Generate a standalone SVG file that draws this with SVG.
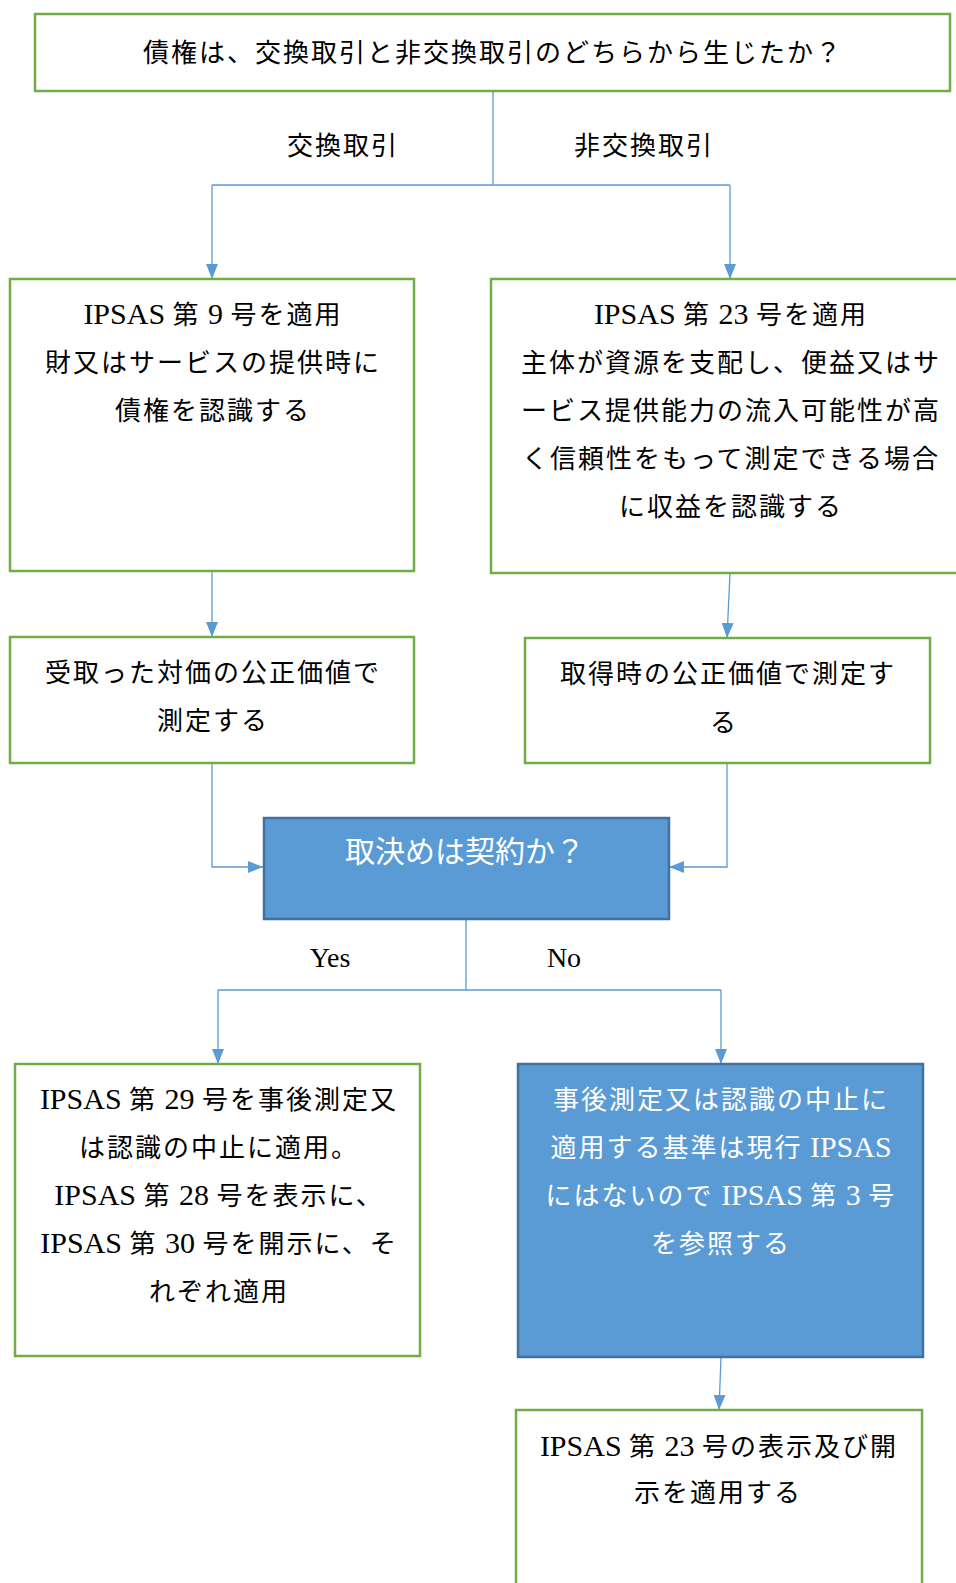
<svg xmlns="http://www.w3.org/2000/svg" width="956" height="1583" viewBox="0 0 956 1583">
<style>
.box{fill:#ffffff;stroke:#70AD47;stroke-width:2.5}
.dec{fill:#5B9BD5;stroke:#41719C;stroke-width:2.5}
.t{font-family:"Liberation Serif","Noto Sans CJK JP",serif;font-size:26px;letter-spacing:2px;fill:#000000;text-anchor:middle}
.l{font-size:30px;letter-spacing:0}
.w{fill:#ffffff}
.d{font-family:"Noto Sans CJK JP","Noto Sans",sans-serif;font-size:30px;fill:#ffffff;text-anchor:middle}
.c{fill:none;stroke:#5B9BD5;stroke-width:1.3}
</style>
<defs>
<marker id="ah" markerUnits="userSpaceOnUse" markerWidth="15" markerHeight="12" refX="15" refY="6" orient="auto">
<path d="M0,0 L15,6 L0,12 z" fill="#5B9BD5"/>
</marker>
</defs>
<rect width="956" height="1583" fill="#ffffff"/>
<g id="connectors">
<path class="c" d="M493,91 V185 M212,185 H730"/>
<path class="c" d="M212,185 V279" marker-end="url(#ah)"/>
<path class="c" d="M730,185 V279" marker-end="url(#ah)"/>
<path class="c" d="M212,571 V637" marker-end="url(#ah)"/>
<path class="c" d="M730,573 L727,638" marker-end="url(#ah)"/>
<path class="c" d="M212,763 V867 H263" marker-end="url(#ah)"/>
<path class="c" d="M727,763 V867 H669" marker-end="url(#ah)"/>
<path class="c" d="M466,919 V990 M218,990 H721"/>
<path class="c" d="M218,990 V1064" marker-end="url(#ah)"/>
<path class="c" d="M721,990 V1064" marker-end="url(#ah)"/>
<path class="c" d="M721,1357 L719,1410" marker-end="url(#ah)"/>
<text class="t" x="343" y="155">交換取引</text>
<text class="t" x="644" y="155">非交換取引</text>
<text class="t l" x="330" y="967" style="font-size:28px">Yes</text>
<text class="t l" x="564" y="967" style="font-size:28px">No</text>
</g>
<g id="n-origin">
<rect class="box" x="35" y="14" width="915" height="77"/>
<text class="t" x="493" y="62">債権は、交換取引と非交換取引のどちらから生じたか？</text>
</g>
<g id="n-ipsas9">
<rect class="box" x="10" y="279" width="404" height="292"/>
<text class="t" x="213" y="324"><tspan class="l">IPSAS </tspan>第<tspan class="l"> 9 </tspan>号を適用</text>
<text class="t" x="213" y="372">財又はサービスの提供時に</text>
<text class="t" x="213" y="420">債権を認識する</text>
</g>
<g id="n-ipsas23">
<rect class="box" x="491" y="279" width="478" height="294"/>
<text class="t" x="731" y="324"><tspan class="l">IPSAS </tspan>第<tspan class="l"> 23 </tspan>号を適用</text>
<text class="t" x="731" y="372">主体が資源を支配し、便益又はサ</text>
<text class="t" x="731" y="420">ービス提供能力の流入可能性が高</text>
<text class="t" x="731" y="468">く信頼性をもって測定できる場合</text>
<text class="t" x="731" y="516">に収益を認識する</text>
</g>
<g id="n-fv-received">
<rect class="box" x="10" y="637" width="404" height="126"/>
<text class="t" x="213" y="682">受取った対価の公正価値で</text>
<text class="t" x="213" y="730">測定する</text>
</g>
<g id="n-fv-acquired">
<rect class="box" x="525" y="638" width="405" height="125"/>
<text class="t" x="728" y="683">取得時の公正価値で測定す</text>
<text class="t" x="724" y="732">る</text>
</g>
<g id="n-contract">
<rect class="dec" x="264" y="818" width="405" height="101"/>
<text class="d" x="465" y="862">取決めは契約か？</text>
</g>
<g id="n-ipsas29">
<rect class="box" x="15" y="1064" width="405" height="292"/>
<text class="t" x="219" y="1109"><tspan class="l">IPSAS </tspan>第<tspan class="l"> 29 </tspan>号を事後測定又</text>
<text class="t" x="219" y="1157">は認識の中止に適用。</text>
<text class="t" x="219" y="1205"><tspan class="l">IPSAS </tspan>第<tspan class="l"> 28 </tspan>号を表示に、</text>
<text class="t" x="219" y="1253"><tspan class="l">IPSAS </tspan>第<tspan class="l"> 30 </tspan>号を開示に、そ</text>
<text class="t" x="219" y="1301">れぞれ適用</text>
</g>
<g id="n-ipsas3">
<rect class="dec" x="518" y="1064" width="405" height="293"/>
<text class="t w" x="721" y="1109">事後測定又は認識の中止に</text>
<text class="t w" x="721" y="1157">適用する基準は現行<tspan class="l"> IPSAS</tspan></text>
<text class="t w" x="721" y="1205">にはないので<tspan class="l"> IPSAS </tspan>第<tspan class="l"> 3 </tspan>号</text>
<text class="t w" x="721" y="1253">を参照する</text>
</g>
<g id="n-ipsas23-disclosure">
<rect class="box" x="516" y="1410" width="406" height="200"/>
<text class="t" x="719" y="1456"><tspan class="l">IPSAS </tspan>第<tspan class="l"> 23 </tspan>号の表示及び開</text>
<text class="t" x="718" y="1502">示を適用する</text>
</g>
</svg>
